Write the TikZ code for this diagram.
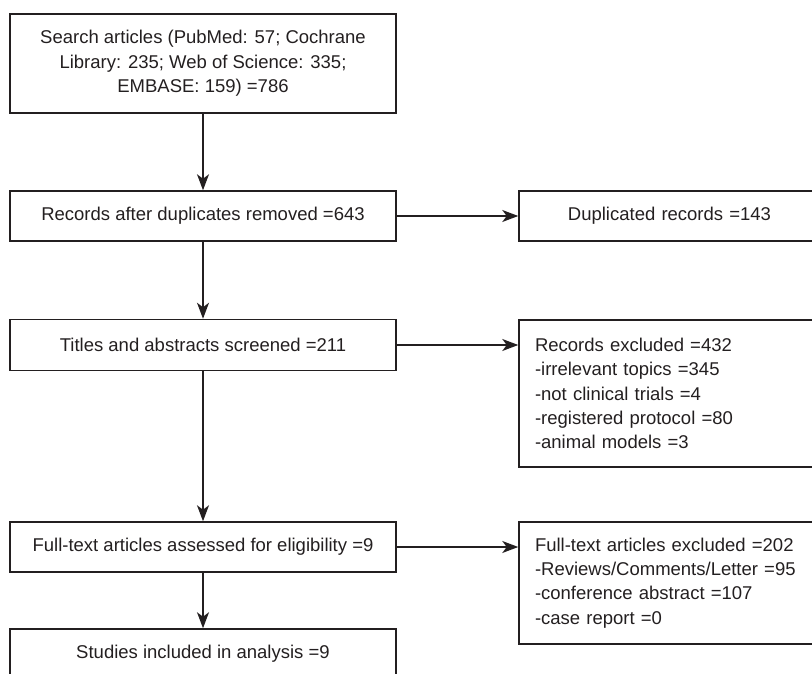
\documentclass[tikz,border=0pt]{standalone}
\usepackage{fontspec}
\setmainfont{Liberation Sans}
\usetikzlibrary{arrows.meta}
\definecolor{inkgray}{HTML}{231F20}
\tikzset{
    flowbox/.style={draw=inkgray, line width=1.5pt, text=inkgray, rectangle,
        minimum width=386pt, minimum height=50pt, align=center,
        font=\fontsize{18.5}{24.3}\selectfont},
    sidebox/.style={draw=inkgray, line width=1.5pt, text=inkgray, rectangle,
        inner xsep=16pt, text width=269pt, align=left,
        font=\fontsize{18.5}{24.3}\selectfont},
    flowarrow/.style={draw=inkgray, line width=1.5pt,
        -{Stealth[length=16pt, width=12pt, inset=4.5pt]}}
}

\begin{document}
\begin{tikzpicture}[x=1pt, y=-1pt]
    \useasboundingbox (0,0) rectangle (812,674);
    \node[flowbox, minimum height=99pt] (search) at (203,63.5)
        {Search articles (PubMed: 57; Cochrane\\Library: 235; Web of Science: 335;\\EMBASE: 159) =786};
    \node[flowbox] (dedup) at (203,216) {Records after duplicates removed =643};
    \node[flowbox, minimum height=51pt] (screen) at (203,345) {Titles and abstracts screened =211};
    \node[flowbox] (fulltext) at (203,547) {Full-text articles assessed for eligibility =9};
    \node[flowbox] (included) at (203,654) {Studies included in analysis =9};

    \node[sidebox, minimum height=50pt, align=center] (dupl) at (669.5,216) {Duplicated records =143};
    \node[sidebox, minimum height=147pt] (recexcl) at (669.5,393.5)
        {Records excluded =432\\-irrelevant topics =345\\-not clinical trials =4\\-registered protocol =80\\-animal models =3};
    \node[sidebox, minimum height=122pt] (ftexcl) at (669.5,583)
        {Full-text articles excluded =202\\-Reviews/Comments/Letter =95\\-conference abstract =107\\-case report =0};

    \draw[flowarrow] (search) -- (dedup);
    \draw[flowarrow] (dedup) -- (screen);
    \draw[flowarrow] (screen) -- (fulltext);
    \draw[flowarrow] (fulltext) -- (included);
    \draw[flowarrow] (dedup.east) -- (dupl.west);
    \draw[flowarrow] (screen.east) -- (screen.east -| recexcl.west);
    \draw[flowarrow] (fulltext.east) -- (fulltext.east -| ftexcl.west);
\end{tikzpicture}
\end{document}
